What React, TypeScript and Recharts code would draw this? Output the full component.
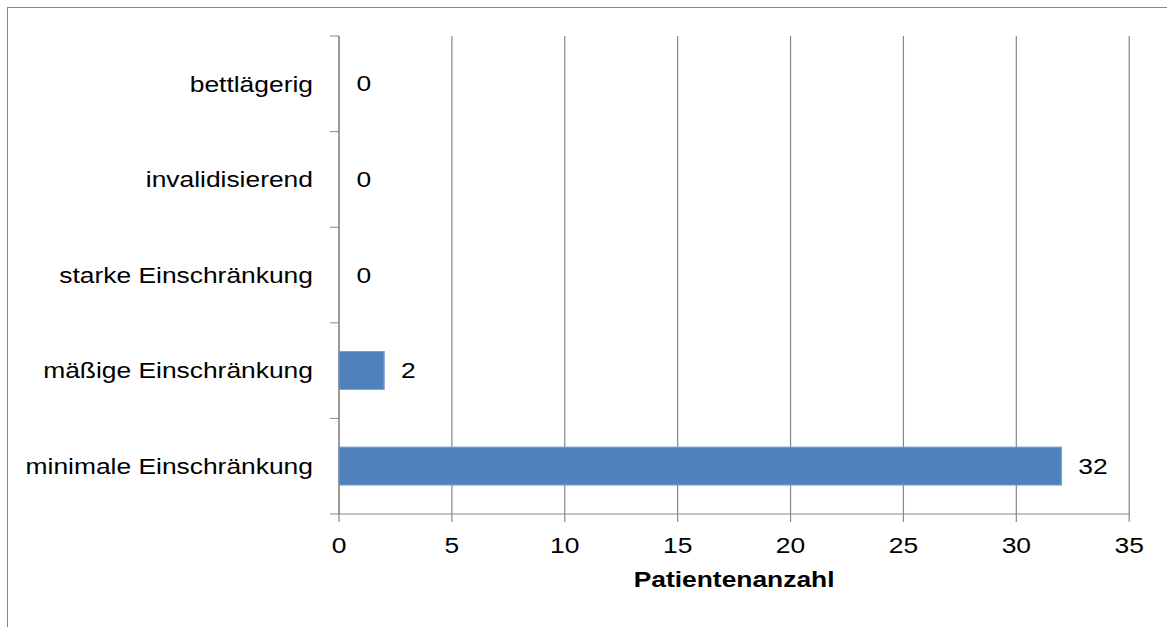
import React from 'react';
import { BarChart, Bar, XAxis, YAxis, CartesianGrid, LabelList } from 'recharts';

const categories = ['bettlägerig', 'invalidisierend', 'starke Einschränkung', 'mäßige Einschränkung', 'minimale Einschränkung'];
const patients = [0, 0, 0, 2, 32];
const xTicks = [0, 5, 10, 15, 20, 25, 30, 35];
const axisTitle = 'Patientenanzahl';

const data = categories.map((c, i) => ({ name: c, value: patients[i] }));

const STRETCH = 1.2;
const GRAY = '#878787';
const FONT = '"Liberation Sans", Arial, sans-serif';
const FS = 22;

const CHART_W = 972;
const CHART_H = 627;
const MARGIN = { top: 36, right: 31, bottom: 23, left: 0 };
const X_AXIS_H = 90;
const PLOT_H = CHART_H - MARGIN.top - MARGIN.bottom - X_AXIS_H;
const BAND = PLOT_H / categories.length;
const Y_TICK_LEN = 7.5;
const Y_LABEL_GAP = 21.7;

const AxisTitle = (props: any) => {
  const vb = props.viewBox || {};
  return (
    <text
      x={vb.x + vb.width / 2}
      y={vb.y + 73}
      textAnchor="middle"
      fontFamily={FONT}
      fontSize={FS}
      fontWeight="bold"
      fill="#000"
    >
      {axisTitle}
    </text>
  );
};

const CategoryTick = (props: any) => {
  const { x, y, payload, index } = props;
  const axisX = Number(x) + Y_LABEL_GAP;
  const cy = Number(y);
  return (
    <g>
      {index === 0 && (
        <line x1={axisX - Y_TICK_LEN} x2={axisX} y1={cy - BAND / 2} y2={cy - BAND / 2} stroke={GRAY} />
      )}
      <line x1={axisX - Y_TICK_LEN} x2={axisX} y1={cy + BAND / 2} y2={cy + BAND / 2} stroke={GRAY} />
      <text x={x} y={cy} dy="0.355em" textAnchor="end" fontFamily={FONT} fontSize={FS} fill="#000">
        {payload.value}
      </text>
    </g>
  );
};

const BarShape = (props: any) => {
  const { x, y, width, height, payload } = props;
  if (!payload || !(payload.value > 0)) return null;
  return <rect x={x} y={y} width={width} height={height} fill="#4F81BD" stroke="#7EA3D2" strokeWidth={1} />;
};

const ValueLabel = (props: any) => {
  const { x, y, width, height, value } = props;
  return (
    <text
      x={Number(x) + Number(width) + 14}
      y={Number(y) + Number(height) / 2}
      dy="0.355em"
      textAnchor="start"
      fontFamily={FONT}
      fontSize={FS}
      fill="#000"
    >
      {String(value)}
    </text>
  );
};

export default function App() {
  return (
    <div style={{ position: 'fixed', left: 0, top: 0, right: 0, bottom: 0, overflow: 'hidden', background: '#fff' }}>
      <div
        style={{
          position: 'absolute',
          left: 7,
          top: 7,
          right: -5,
          bottom: -5,
          borderTop: `1px solid ${GRAY}`,
          borderLeft: `1px solid ${GRAY}`,
        }}
      />
      <div
        style={{
          position: 'absolute',
          left: 0,
          top: 0,
          width: CHART_W,
          height: CHART_H,
          transform: `scaleX(${STRETCH})`,
          transformOrigin: '0 0',
        }}
      >
        <BarChart
          width={CHART_W}
          height={CHART_H}
          data={data}
          layout="vertical"
          margin={MARGIN}
          barCategoryGap="30%"
          style={{ fontFamily: FONT }}
        >
          <CartesianGrid horizontal={false} vertical stroke={GRAY} strokeWidth={1} />
          <YAxis
            type="category"
            dataKey="name"
            width={282.5}
            tickLine={false}
            tickSize={0}
            axisLine={{ stroke: GRAY }}
            tickMargin={Y_LABEL_GAP}
            tick={<CategoryTick />}
            interval={0}
          />
          <XAxis
            type="number"
            domain={[0, 35]}
            ticks={xTicks}
            interval={0}
            height={X_AXIS_H}
            tickSize={8}
            tickMargin={15}
            tickLine={{ stroke: GRAY }}
            axisLine={{ stroke: GRAY }}
            tick={{ fill: '#000', fontSize: FS, fontFamily: FONT }}
            label={<AxisTitle />}
          />
          <Bar dataKey="value" minPointSize={0.5} shape={<BarShape />} isAnimationActive={false}>
            <LabelList dataKey="value" content={<ValueLabel />} />
          </Bar>
        </BarChart>
      </div>
    </div>
  );
}
